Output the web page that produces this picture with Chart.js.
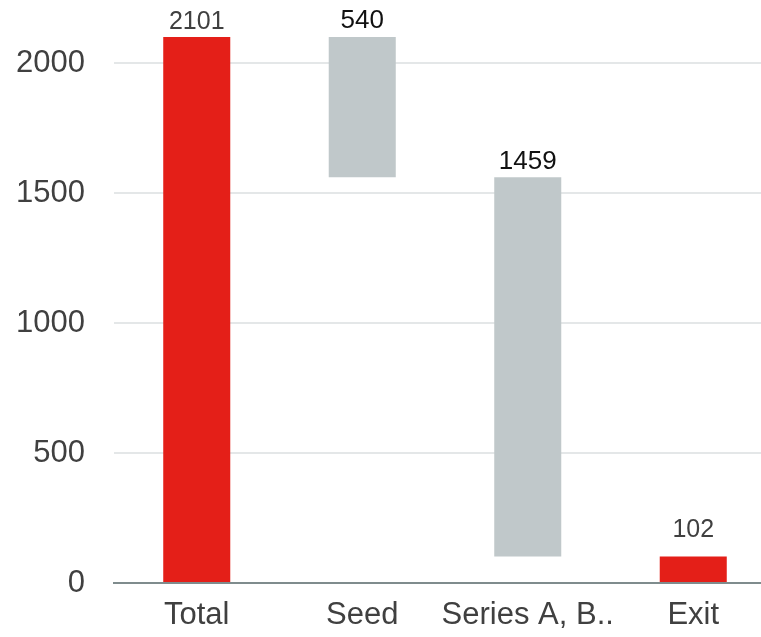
<!DOCTYPE html>
<html>
<head>
<meta charset="utf-8">
<script src="https://cdn.jsdelivr.net/npm/chart.js@4.4.1/dist/chart.umd.min.js"></script>
<style>
  html, body { margin: 0; padding: 0; background: #fff; overflow: hidden; }
  #wrap { position: relative; width: 776px; height: 637px; }
</style>
</head>
<body>
<div id="wrap"><canvas id="chart"></canvas></div>
<script>
// Waterfall: funding totals and the steps between them
const categories = ['Total', 'Seed', 'Series A, B..', 'Exit'];
const amounts = [2101, 540, 1459, 102];
const kinds = ['total', 'decrease', 'decrease', 'total'];
const yTicks = [0, 500, 1000, 1500, 2000];

const RED = '#e41f18';
const GREY = '#c0c8ca';

// Build floating [start, end] ranges from the step amounts
const ranges = [];
let running = 0;
amounts.forEach((v, i) => {
  if (kinds[i] === 'total') {
    ranges.push([0, v]);
    running = v;
  } else {
    ranges.push([running - v, running]);
    running -= v;
  }
});

const labelColors = kinds.map(k => k === 'total' ? '#404040' : '#111111');
const labelGap = [8, 9, 8, 19];

const valueLabels = {
  id: 'valueLabels',
  afterDatasetsDraw(chart) {
    const ctx = chart.ctx;
    const meta = chart.getDatasetMeta(0);
    ctx.save();
    ctx.textAlign = 'center';
    ctx.textBaseline = 'alphabetic';
    meta.data.forEach((bar, i) => {
      const top = chart.scales.y.getPixelForValue(ranges[i][1]);
      ctx.font = (kinds[i] === 'total' ? '25px' : '26px') + ' "Liberation Sans", Arial, sans-serif';
      ctx.fillStyle = labelColors[i];
      ctx.fillText(String(amounts[i]), bar.x, top - labelGap[i]);
    });
    ctx.restore();
  }
};

new Chart(document.getElementById('chart'), {
  type: 'bar',
  data: {
    labels: categories,
    datasets: [{
      data: ranges,
      backgroundColor: kinds.map(k => k === 'total' ? RED : GREY),
      borderWidth: 0,
      borderSkipped: false,
      categoryPercentage: 1,
      barPercentage: 0.405
    }]
  },
  options: {
    responsive: true,
    maintainAspectRatio: false,
    animation: false,
    layout: { padding: 0 },
    plugins: {
      legend: { display: false },
      tooltip: { enabled: false }
    },
    scales: {
      x: {
        grid: { display: false, drawTicks: false },
        border: { display: true, color: '#7f8c8d', width: 2 },
        ticks: {
          color: '#404040',
          font: { family: '"Liberation Sans", Arial, sans-serif', size: 31 },
          padding: 14,
          maxRotation: 0,
          autoSkip: false
        },
        afterFit(s) { s.height = 54; s.paddingLeft = 0; s.paddingRight = 0; }
      },
      y: {
        min: 0,
        max: 2243,
        afterBuildTicks(s) { s.ticks = yTicks.map(v => ({ value: v })); },
        grid: { color: '#e4e7e8', lineWidth: 2, drawTicks: false },
        border: { display: false },
        ticks: {
          color: '#404040',
          font: { family: '"Liberation Sans", Arial, sans-serif', size: 31 },
          padding: 29,
          callback: v => String(v)
        },
        afterFit(s) { s.width = 114; s.paddingTop = 0; s.paddingBottom = 0; }
      }
    }
  },
  plugins: [valueLabels]
});
</script>
</body>
</html>
